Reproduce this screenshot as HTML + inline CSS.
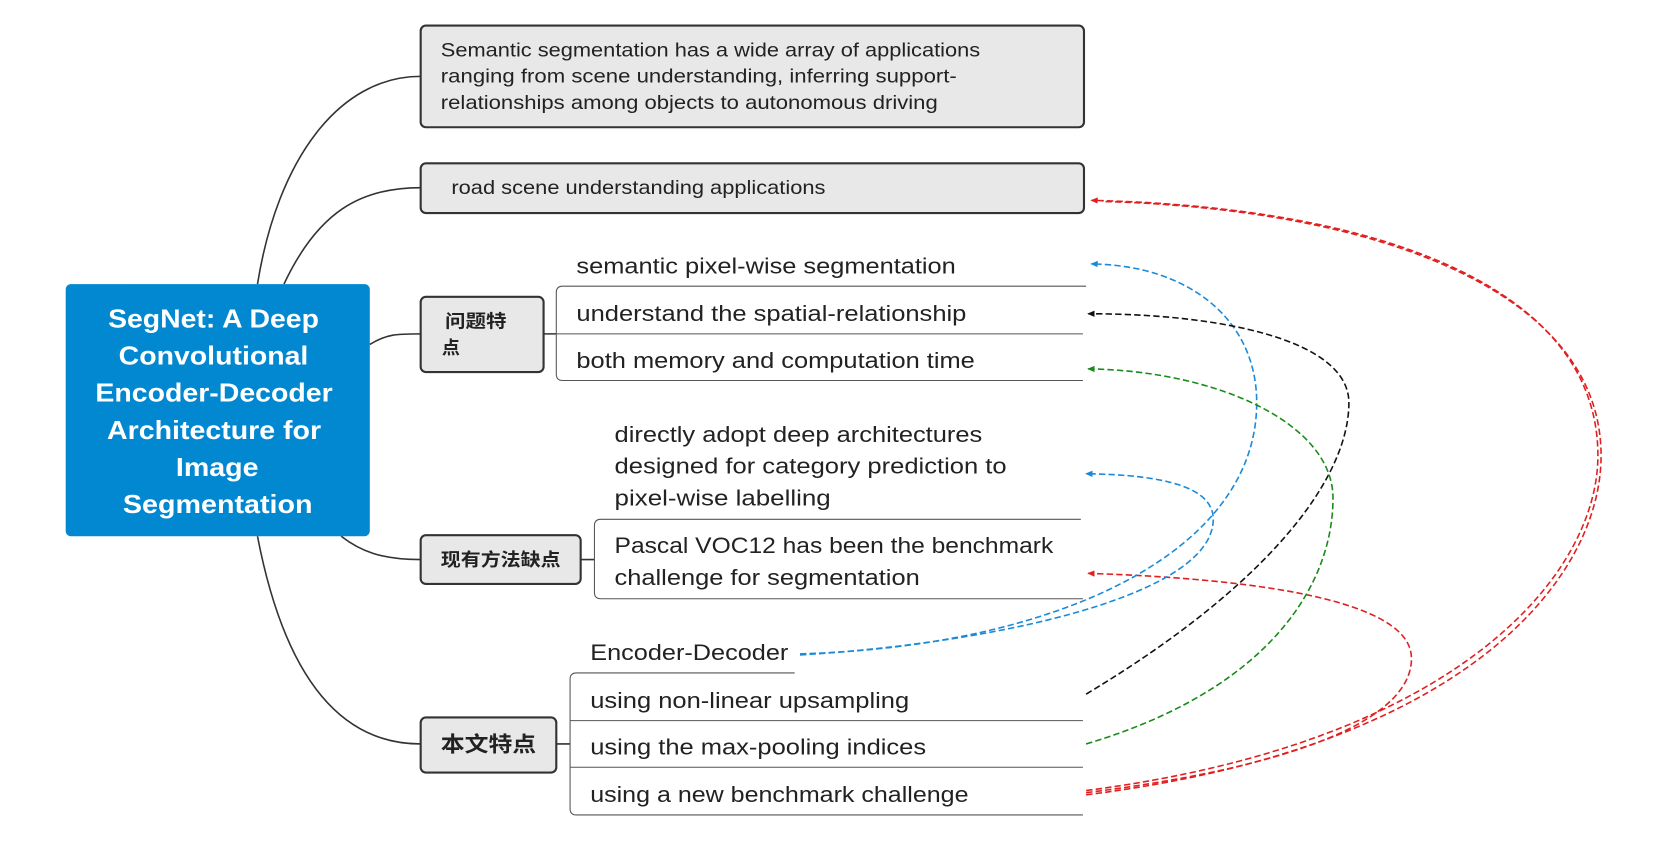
<!DOCTYPE html>
<html><head><meta charset="utf-8"><style>
html,body{margin:0;padding:0;background:#fff;}
svg{display:block;}
text{font-family:"Liberation Sans","Noto Sans CJK SC",sans-serif;fill:#222;}
</style></head><body>
<svg width="1653" height="850" viewBox="0 0 1560 802" xmlns="http://www.w3.org/2000/svg">
<defs>
<marker id="mr" markerWidth="8" markerHeight="8" refX="6" refY="4" orient="auto" markerUnits="userSpaceOnUse"><path d="M0,1 L7,4 L0,7 z" fill="#e02020"/></marker>
<marker id="mb" markerWidth="8" markerHeight="8" refX="6" refY="4" orient="auto" markerUnits="userSpaceOnUse"><path d="M0,1 L7,4 L0,7 z" fill="#1a8ad8"/></marker>
<marker id="mk" markerWidth="8" markerHeight="8" refX="6" refY="4" orient="auto" markerUnits="userSpaceOnUse"><path d="M0,1 L7,4 L0,7 z" fill="#111"/></marker>
<marker id="mg" markerWidth="8" markerHeight="8" refX="6" refY="4" orient="auto" markerUnits="userSpaceOnUse"><path d="M0,1 L7,4 L0,7 z" fill="#1a8a1a"/></marker>
</defs>
<g fill="none" stroke="#333" stroke-width="1.5">
<path d="M243,268 C 262,150 320,72 397,72"/>
<path d="M268,268 C 300,200 340,177 397,177"/>
<path d="M349,325 C 365,315 375,315 397,315"/>
<path d="M322,506 C 340,520 360,528 397,528"/>
<path d="M243,506 C 265,620 310,702 397,702"/>
<path d="M513,315 H525 M548,528 H561 M525,702 H538"/>
</g>
<rect x="62" y="268" width="287" height="238" rx="5" fill="#0288d1"/>
<g font-size="24.5" font-weight="bold" lengthAdjust="spacingAndGlyphs">
<text x="102" y="309" textLength="199" lengthAdjust="spacingAndGlyphs" style="fill:#fff">SegNet: A Deep</text>
<text x="112" y="344" textLength="179" lengthAdjust="spacingAndGlyphs" style="fill:#fff">Convolutional</text>
<text x="90" y="379" textLength="224" lengthAdjust="spacingAndGlyphs" style="fill:#fff">Encoder-Decoder</text>
<text x="101" y="414" textLength="202" lengthAdjust="spacingAndGlyphs" style="fill:#fff">Architecture for</text>
<text x="166" y="449" textLength="78" lengthAdjust="spacingAndGlyphs" style="fill:#fff">Image</text>
<text x="116" y="484" textLength="179" lengthAdjust="spacingAndGlyphs" style="fill:#fff">Segmentation</text>
</g>
<g fill="#e8e8e8" stroke="#333" stroke-width="2">
<rect x="397" y="24" width="626" height="96" rx="5"/>
<rect x="397" y="154" width="626" height="47" rx="5"/>
<rect x="397" y="280" width="116" height="71" rx="5"/>
<rect x="397" y="505" width="151" height="46" rx="5"/>
<rect x="397" y="677" width="128" height="52" rx="5"/>
</g>
<g font-size="18">
<text x="416" y="53" textLength="509" lengthAdjust="spacingAndGlyphs">Semantic segmentation has a wide array of applications</text>
<text x="416" y="78" textLength="487" lengthAdjust="spacingAndGlyphs">ranging from scene understanding, inferring support-</text>
<text x="416" y="103" textLength="469" lengthAdjust="spacingAndGlyphs">relationships among objects to autonomous driving</text>
<text x="426" y="183" textLength="353" lengthAdjust="spacingAndGlyphs">road scene understanding applications</text>
</g>
<g font-size="17" font-weight="bold">
<text x="420" y="309" textLength="58" lengthAdjust="spacingAndGlyphs">问题特</text>
<text x="417" y="334">点</text>
<text x="416" y="534" textLength="113" lengthAdjust="spacingAndGlyphs">现有方法缺点</text>
<text x="416" y="709" font-size="20" textLength="90" lengthAdjust="spacingAndGlyphs">本文特点</text>
</g>
<g fill="none" stroke="#555" stroke-width="1">
<path d="M1025,270 H531 Q525,270 525,276 V353 Q525,359 531,359 H1022 M525,315 H1022"/>
<path d="M1020,490 H567 Q561,490 561,496 V559 Q561,565 567,565 H1022"/>
<path d="M750,635 H544 Q538,635 538,641 V763 Q538,769 544,769 H1022 M538,680 H1022 M538,724 H1022"/>
</g>
<g font-size="21">
<text x="544" y="258" textLength="358" lengthAdjust="spacingAndGlyphs">semantic pixel-wise segmentation</text>
<text x="544" y="303" textLength="368" lengthAdjust="spacingAndGlyphs">understand the spatial-relationship</text>
<text x="544" y="347" textLength="376" lengthAdjust="spacingAndGlyphs">both memory and computation time</text>
<text x="580" y="417" textLength="347" lengthAdjust="spacingAndGlyphs">directly adopt deep architectures</text>
<text x="580" y="447" textLength="370" lengthAdjust="spacingAndGlyphs">designed for category prediction to</text>
<text x="580" y="477" textLength="204" lengthAdjust="spacingAndGlyphs">pixel-wise labelling</text>
<text x="580" y="522" textLength="414" lengthAdjust="spacingAndGlyphs">Pascal VOC12  has been the benchmark</text>
<text x="580" y="552" textLength="288" lengthAdjust="spacingAndGlyphs">challenge for segmentation</text>
<text x="557" y="623" textLength="187" lengthAdjust="spacingAndGlyphs">Encoder-Decoder</text>
<text x="557" y="668" textLength="301" lengthAdjust="spacingAndGlyphs">using non-linear upsampling</text>
<text x="557" y="712" textLength="317" lengthAdjust="spacingAndGlyphs">using the max-pooling indices</text>
<text x="557" y="757" textLength="357" lengthAdjust="spacingAndGlyphs">using a new benchmark challenge</text>
</g>
<g fill="none" stroke-width="1.5" stroke-dasharray="6,3">
<path d="M1025,746 C 1380,700 1508,540 1508,430 C 1508,270 1300,195 1030,189" stroke="#e02020" marker-end="url(#mr)"/>
<path d="M1025,750 C 1385,705 1511,545 1511,430 C 1511,275 1300,197 1040,190" stroke="#e02020"/>
<path d="M1025,748 C 1250,720 1334,670 1332,620 C 1330,560 1150,545 1027,541" stroke="#e02020" marker-end="url(#mr)"/>
<path d="M755,617 C 1000,610 1186,520 1186,380 C 1186,300 1120,250 1030,249" stroke="#1a8ad8" marker-end="url(#mb)"/>
<path d="M755,618 C 950,606 1145,560 1145,490 C 1145,460 1100,448 1025,447" stroke="#1a8ad8" marker-end="url(#mb)"/>
<path d="M1025,655 C 1200,550 1273,450 1273,380 C 1273,320 1150,296 1027,296" stroke="#111" marker-end="url(#mk)"/>
<path d="M1025,702 C 1200,650 1258,550 1258,470 C 1258,400 1150,350 1027,348" stroke="#1a8a1a" marker-end="url(#mg)"/>
</g>
</svg>
</body></html>
